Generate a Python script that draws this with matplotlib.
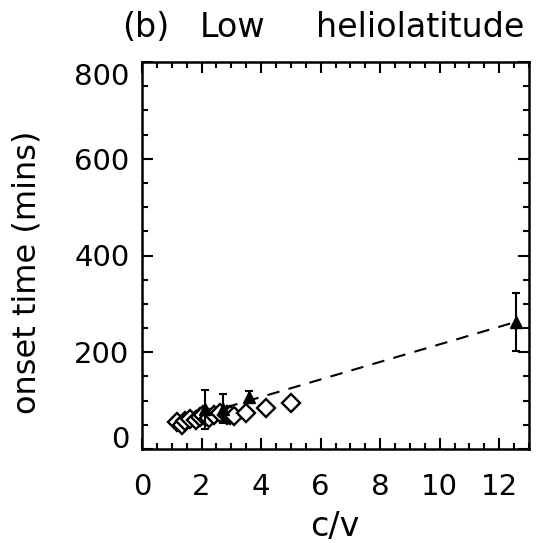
import matplotlib
matplotlib.use("Agg")
import matplotlib.pyplot as plt
import matplotlib.transforms as mtransforms
from matplotlib.ticker import MultipleLocator

# Diamond points (c/v, onset time in mins)
diam_x = [1.17, 1.34, 1.45, 1.62, 1.80, 1.96, 2.06, 2.25, 2.41, 2.63, 2.86, 2.97, 3.10, 3.48, 4.16, 5.00]
diam_y = [56, 50, 58, 63, 60, 67, 70, 64, 70, 74, 70, 70, 68, 74, 84, 96]

# Triangle points with error bars
tri_x = [2.13, 2.72, 3.59, 12.57]
tri_y = [82, 83, 108, 263]
tri_err = [40, 30, 12, 60]

# Dashed linear fit
fit_x = [2.1, 12.57]
fit_y = [73, 263]

xticks = [0, 2, 4, 6, 8, 10, 12]
yticks = [0, 200, 400, 600, 800]
title_words = ['(b)', 'Low', 'heliolatitude']
title_word_x = [122, 200, 316]

plt.rcParams['font.family'] = ['DejaVu Sans']
W, H = 545, 543
fig = plt.figure(figsize=(W/100, H/100), dpi=100)
ax = fig.add_axes([142/W, (H-449)/H, 387/W, 387/H])

ax.plot(fit_x, fit_y, color='black', lw=1.5, ls=(0, (6, 4.5)))
ax.plot(diam_x, diam_y, ls='none', marker='D', ms=9.5, mfc='white', mec='black', mew=1.7)
ax.errorbar(tri_x, tri_y, yerr=tri_err, fmt='^', ms=9, color='black', mfc='black',
            ecolor='black', elinewidth=1.5, capsize=3, capthick=1.5)

ax.set_xlim(0, 13)
ax.set_ylim(0, 800)
ax.set_xticks(xticks)
ax.set_yticks(yticks)
ax.xaxis.set_minor_locator(MultipleLocator(0.5))
ax.yaxis.set_minor_locator(MultipleLocator(50))
ax.tick_params(which='both', direction='in', top=True, right=True, width=1.5, labelsize=21)
ax.tick_params(which='major', length=8)
ax.tick_params(which='minor', length=4)
ax.tick_params(axis='x', pad=17)
ax.tick_params(axis='y', pad=9)
for s in ax.spines.values():
    s.set_linewidth(1.8)

ax.set_xlabel('c/v', fontsize=24)
ax.xaxis.set_label_coords(0.499, (449-510)/387)
ax.set_ylabel('onset time (mins)', fontsize=23)
ax.yaxis.set_label_coords((43-142)/387, (449-272)/387)

for w, x in zip(title_words, title_word_x):
    fig.text(x/W, (H-37)/H, w, fontsize=24, ha='left', va='baseline')

# shift extreme y labels inward, as in the reference
fig.canvas.draw()
ticks = ax.yaxis.get_major_ticks()
up = mtransforms.ScaledTranslation(0, 12/100, fig.dpi_scale_trans)
down = mtransforms.ScaledTranslation(0, -12/100, fig.dpi_scale_trans)
ticks[0].label1.set_transform(ticks[0].label1.get_transform() + up)
ticks[-1].label1.set_transform(ticks[-1].label1.get_transform() + down)

fig.savefig('out.png', dpi=100)
